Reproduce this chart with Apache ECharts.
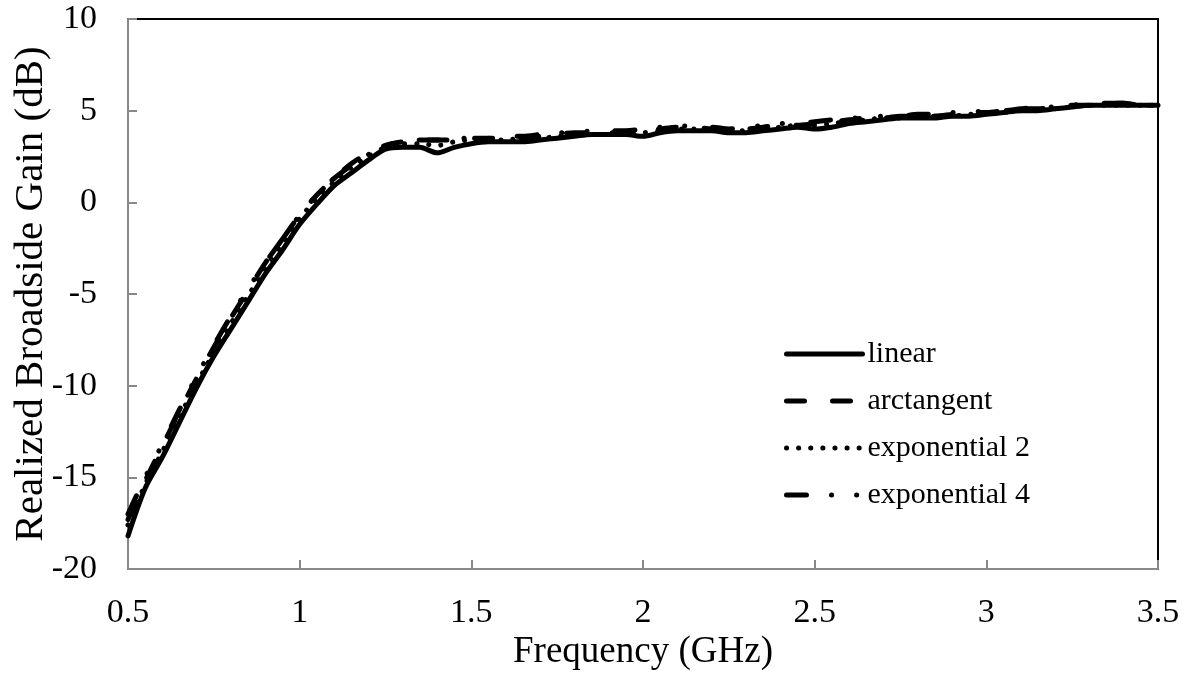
<!DOCTYPE html>
<html>
<head>
<meta charset="utf-8">
<script src="https://cdn.jsdelivr.net/npm/echarts@6/dist/echarts.min.js"></script>
<style>
html,body{margin:0;padding:0;background:#fff;}
#chart{width:1188px;height:682px;}
</style>
</head>
<body>
<div id="chart"></div>
<script>
// Frequency (GHz)
const freq = [0.50,0.55,0.60,0.65,0.70,0.75,0.80,0.85,0.90,0.95,
  1.00,1.05,1.10,1.15,1.20,1.25,1.30,1.35,1.40,1.45,
  1.50,1.55,1.60,1.65,1.70,1.75,1.80,1.85,1.90,1.95,
  2.00,2.05,2.10,2.15,2.20,2.25,2.30,2.35,2.40,2.45,
  2.50,2.55,2.60,2.65,2.70,2.75,2.80,2.85,2.90,2.95,
  3.00,3.05,3.10,3.15,3.20,3.25,3.30,3.35,3.40,3.45,3.50];

const linear = [-18.2,-15.6,-13.9,-12.0,-10.1,-8.4,-6.9,-5.4,-3.9,-2.6,
  -1.2,-0.1,0.9,1.6,2.3,2.9,3.0,3.0,2.7,3.0,
  3.2,3.3,3.3,3.3,3.4,3.5,3.6,3.7,3.7,3.7,
  3.6,3.8,3.9,3.9,3.9,3.8,3.8,3.9,4.0,4.1,
  4.0,4.1,4.3,4.4,4.5,4.6,4.6,4.6,4.7,4.7,
  4.8,4.9,5.0,5.0,5.1,5.2,5.3,5.3,5.3,5.3,5.3];

const arctangent = [-17.3,-15.2,-13.3,-11.4,-9.6,-7.9,-6.3,-4.8,-3.3,-2.0,
  -0.7,0.4,1.3,2.1,2.7,3.1,3.3,3.4,3.4,3.4,
  3.5,3.5,3.5,3.5,3.6,3.7,3.8,3.8,3.8,3.8,
  3.9,4.0,4.1,4.1,4.0,4.0,4.0,4.1,4.2,4.2,
  4.3,4.4,4.5,4.6,4.6,4.7,4.7,4.7,4.8,4.9,
  4.9,5.0,5.1,5.1,5.2,5.3,5.3,5.4,5.4,5.3,5.3];

const exponential2 = [-17.6,-15.4,-13.6,-11.7,-9.9,-8.2,-6.6,-5.1,-3.6,-2.3,
  -0.9,0.2,1.1,1.9,2.5,3.0,3.2,3.2,3.1,3.3,
  3.4,3.4,3.4,3.5,3.5,3.6,3.7,3.7,3.7,3.7,
  3.8,3.9,4.0,4.0,3.9,3.9,3.9,4.0,4.1,4.2,
  4.2,4.3,4.4,4.5,4.6,4.6,4.7,4.7,4.7,4.8,
  4.8,4.9,5.0,5.1,5.1,5.2,5.3,5.3,5.3,5.3,5.3];

const exponential4 = [-17.0,-15.0,-13.2,-11.3,-9.5,-7.8,-6.2,-4.7,-3.3,-2.0,
  -0.7,0.4,1.3,2.0,2.6,3.1,3.3,3.4,3.4,3.5,
  3.5,3.5,3.6,3.6,3.7,3.8,3.8,3.9,3.9,3.9,
  4.0,4.1,4.2,4.1,4.1,4.0,4.1,4.2,4.3,4.3,
  4.4,4.5,4.6,4.6,4.7,4.7,4.8,4.8,4.9,4.9,
  5.0,5.0,5.1,5.2,5.2,5.3,5.4,5.4,5.4,5.3,5.3];

const seriesNames = ['linear','arctangent','exponential 2','exponential 4'];
const xTicks = {min:0.5, max:3.5, step:0.5};
const yTicks = {min:-20, max:10, step:5};

const font = 'Liberation Serif, Times New Roman, serif';
const pair = arr => freq.map((f,i)=>[f, arr[i]]);
const styles = [
  {type:'solid'},
  {type:[18,28]},
  {type:[0.1,12]},
  {type:[20,25,0.1,25,0.1,28]}
];
const datas = [linear, arctangent, exponential2, exponential4];

const chart = echarts.init(document.getElementById('chart'), null, {renderer:'canvas'});
chart.setOption({
  backgroundColor:'#fff',
  animation:false,
  grid:{left:128, right:30, top:19, bottom:113, show:true, borderColor:'#000', borderWidth:2,
        backgroundColor:'transparent', containLabel:false, outerBoundsMode:'none'},
  xAxis:{
    type:'value', min:xTicks.min, max:xTicks.max, interval:xTicks.step,
    name:'Frequency (GHz)', nameLocation:'middle', nameGap:65, nameMoveOverlap:false,
    nameTextStyle:{fontFamily:font, fontSize:37, color:'#000'},
    axisLine:{show:true, onZero:false, lineStyle:{color:'#888', width:2}},
    axisTick:{show:true, inside:true, length:9, lineStyle:{color:'#888', width:2}},
    axisLabel:{fontFamily:font, fontSize:34, color:'#000', margin:27},
    splitLine:{show:false}
  },
  yAxis:{
    type:'value', min:yTicks.min, max:yTicks.max, interval:yTicks.step,
    name:'Realized Broadside Gain (dB)', nameLocation:'middle', nameGap:76, nameMoveOverlap:false,
    nameTextStyle:{fontFamily:font, fontSize:41, color:'#000'},
    axisLine:{show:true, onZero:false, lineStyle:{color:'#888', width:2}},
    axisTick:{show:true, inside:true, length:9, lineStyle:{color:'#888', width:2}},
    axisLabel:{fontFamily:font, fontSize:34, color:'#000', margin:31},
    splitLine:{show:false}
  },
  legend:{
    orient:'vertical', left:779, top:334,
    itemWidth:76, itemHeight:30, itemGap:17,
    data:seriesNames,
    textStyle:{fontFamily:font, fontSize:30, color:'#000', lineHeight:30},
    itemStyle:{color:'rgba(0,0,0,0)', borderColor:'rgba(0,0,0,0)', borderWidth:0},
    lineStyle:{width:5}
  },
  series: seriesNames.map((n,i)=>({
    name:n, type:'line', data:pair(datas[i]),
    symbol:'none', showSymbol:false, smooth:0.3,
    lineStyle:{color:'#000', width:5, type:styles[i].type, cap:'round', join:'round'},
    itemStyle:{color:'#000'},
    z: 10-i
  }))
});
</script>
</body>
</html>
